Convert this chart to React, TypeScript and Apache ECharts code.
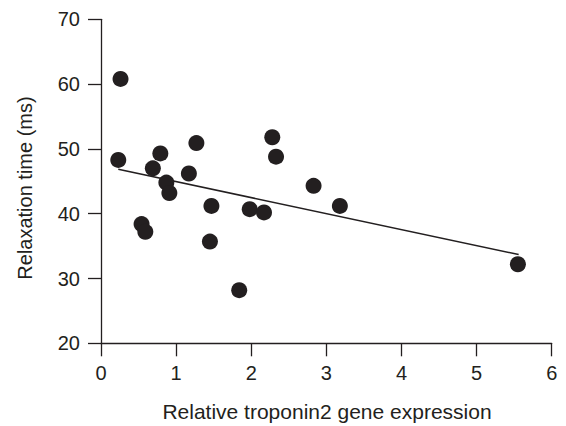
import React, { useEffect, useRef } from "react";
import * as echarts from "echarts";

const expressionX = [0.26, 0.23, 0.79, 0.69, 1.27, 1.17, 2.28, 2.33, 0.87, 0.91, 1.47, 1.98, 2.17, 0.54, 0.59, 1.45, 1.84, 2.83, 3.18, 5.55];
const relaxationY = [60.8, 48.3, 49.3, 47.0, 50.9, 46.2, 51.8, 48.8, 44.8, 43.2, 41.2, 40.7, 40.2, 38.4, 37.2, 35.7, 28.2, 44.3, 41.2, 32.2];
const fitX = [0.23, 5.56];
const fitY = [46.85, 33.7];
const xTicks = [0, 1, 2, 3, 4, 5, 6];
const yTicks = [20, 30, 40, 50, 60, 70];
const xTitle = "Relative troponin2 gene expression";
const yTitle = "Relaxation time (ms)";

const INK = "#231f20";
const FONT = "'Liberation Sans', Arial, Helvetica, sans-serif";

export default function App() {
  const ref = useRef<HTMLDivElement>(null);
  useEffect(() => {
    if (!ref.current) return;
    const chart = echarts.init(ref.current, undefined, { renderer: "svg" });
    const axisCommon = {
      axisLine: { show: true, onZero: false, lineStyle: { color: INK, width: 1.3 } },
      axisTick: { show: true, inside: false, length: 13, lineStyle: { color: INK, width: 1.3 } },
      splitLine: { show: false },
    };
    chart.setOption({
      animation: false,
      backgroundColor: "#ffffff",
      grid: { left: 101, right: 14.3, top: 19.3, bottom: 82.7, containLabel: false },
      xAxis: {
        type: "value",
        min: xTicks[0],
        max: xTicks[xTicks.length - 1],
        interval: 1,
        ...axisCommon,
        axisLabel: { color: INK, fontSize: 20, fontFamily: FONT, margin: 20 },
      },
      yAxis: {
        type: "value",
        min: yTicks[0],
        max: yTicks[yTicks.length - 1],
        interval: 10,
        ...axisCommon,
        axisLabel: { color: INK, fontSize: 20, fontFamily: FONT, margin: 21 },
      },
      graphic: [
        {
          type: "text",
          x: 327,
          y: 411,
          style: { text: xTitle, fill: INK, fontSize: 21, fontFamily: FONT, align: "center", verticalAlign: "middle" },
        },
        {
          type: "text",
          x: 25,
          y: 188,
          rotation: Math.PI / 2,
          style: { text: yTitle, fill: INK, fontSize: 20, fontFamily: FONT, align: "center", verticalAlign: "middle" },
        },
      ],
      series: [
        {
          type: "line",
          data: fitX.map((x, i) => [x, fitY[i]]),
          symbol: "none",
          lineStyle: { color: INK, width: 1.5 },
          z: 1,
        },
        {
          type: "scatter",
          data: expressionX.map((x, i) => [x, relaxationY[i]]),
          symbol: "circle",
          symbolSize: 16,
          itemStyle: { color: INK, opacity: 1 },
          z: 2,
        },
      ],
    });
    return () => chart.dispose();
  }, []);
  return <div ref={ref} style={{ width: 566, height: 426, position: "absolute", left: 0, top: 0 }} />;
}
